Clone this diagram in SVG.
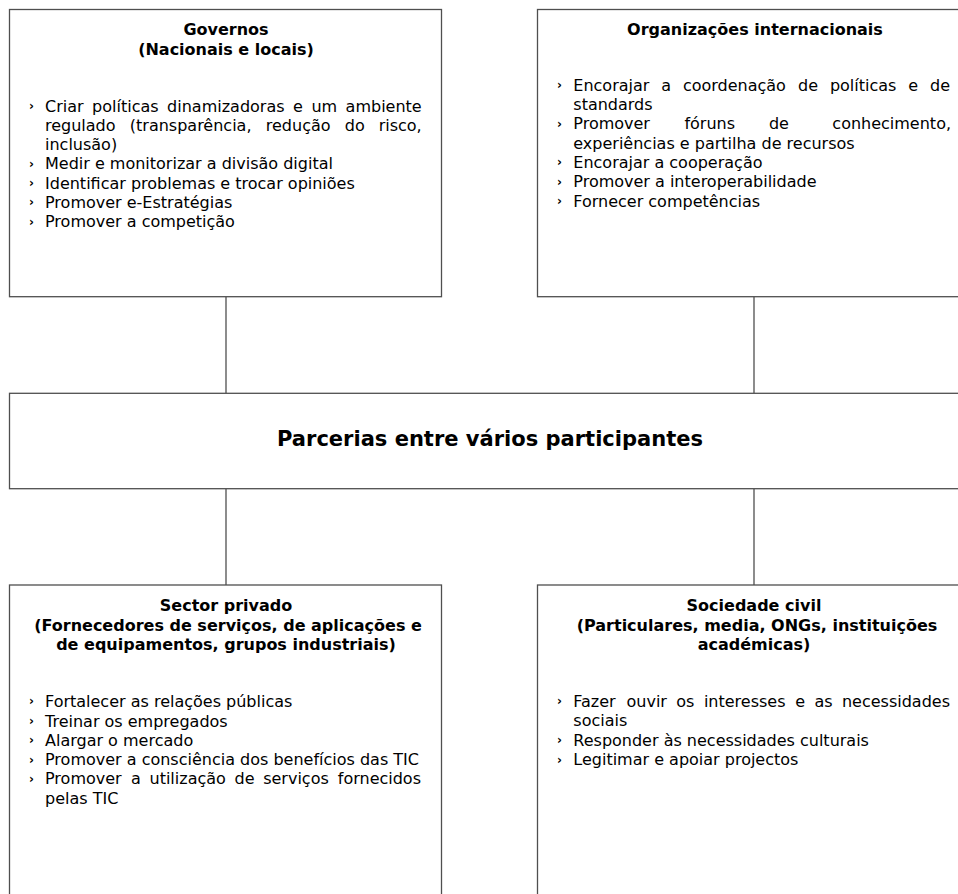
<svg xmlns="http://www.w3.org/2000/svg" width="958" height="894" viewBox="0 0 958 894">
  <style>
    .box { fill: #ffffff; stroke: #4f4f4f; stroke-width: 1.3; }
    .link { stroke: #4f4f4f; stroke-width: 1.3; fill: none; }
    text { font-family: "DejaVu Sans", Verdana, sans-serif; fill: #000000; }
    .title { font-size: 16px; font-weight: bold; text-anchor: middle; }
    .main { font-size: 21px; font-weight: bold; text-anchor: middle; }
    .item { font-size: 16px; }
    .end { text-anchor: end; }
    .bullet { font-size: 12px; font-weight: bold; }
  </style>
  <rect width="958" height="894" fill="#ffffff"/>

  <!-- connectors between the four actor boxes and the central partnership box -->
  <g id="connectors">
    <line class="link" x1="226" y1="296.7" x2="226" y2="393.3"/>
    <line class="link" x1="754" y1="296.7" x2="754" y2="393.3"/>
    <line class="link" x1="226" y1="488.7" x2="226" y2="585"/>
    <line class="link" x1="754" y1="488.7" x2="754" y2="585"/>
  </g>

  <!-- Governos -->
  <g id="governos">
    <rect class="box" x="9.5" y="9.5" width="432" height="287.2"/>
    <text class="title" x="226" y="35">Governos</text>
    <text class="title" x="226" y="55">(Nacionais e locais)</text>
    <text class="bullet" x="29" y="110">›</text>
    <text class="bullet" x="29" y="168">›</text>
    <text class="bullet" x="29" y="187">›</text>
    <text class="bullet" x="29" y="206">›</text>
    <text class="bullet" x="29" y="226">›</text>
    <!-- justified lines: words placed one by one -->
    <text class="item" x="45" y="111.5">Criar</text>
    <text class="item" x="92.1" y="111.5">políticas</text>
    <text class="item" x="167.1" y="111.5">dinamizadoras</text>
    <text class="item" x="293" y="111.5">e</text>
    <text class="item" x="311.4" y="111.5">um</text>
    <text class="item end" x="421.7" y="111.5">ambiente</text>
    <text class="item" x="45" y="130.8">regulado</text>
    <text class="item" x="129.8" y="130.8">(transparência,</text>
    <text class="item" x="265.8" y="130.8">redução</text>
    <text class="item" x="344.8" y="130.8">do</text>
    <text class="item end" x="421.7" y="130.8">risco,</text>
    <text class="item" x="45" y="150.1">inclusão)</text>
    <text class="item" x="45" y="169.4">Medir e monitorizar a divisão digital</text>
    <text class="item" x="45" y="188.7">Identificar problemas e trocar opiniões</text>
    <text class="item" x="45" y="208">Promover e-Estratégias</text>
    <text class="item" x="45" y="227.3">Promover a competição</text>
  </g>

  <!-- Organizações internacionais -->
  <g id="organizacoes">
    <rect class="box" x="537.5" y="9.5" width="432" height="287.2"/>
    <text class="title" x="755" y="35">Organizações internacionais</text>
    <text class="bullet" x="557" y="89.2">›</text>
    <text class="bullet" x="557" y="127.8">›</text>
    <text class="bullet" x="557" y="166.2">›</text>
    <text class="bullet" x="557" y="185.8">›</text>
    <text class="bullet" x="557" y="205.2">›</text>
    <text class="item" x="573.3" y="90.7">Encorajar</text>
    <text class="item" x="661.2" y="90.7">a</text>
    <text class="item" x="682.9" y="90.7">coordenação</text>
    <text class="item" x="798.1" y="90.7">de</text>
    <text class="item" x="829.9" y="90.7">políticas</text>
    <text class="item" x="908.3" y="90.7">e</text>
    <text class="item end" x="950" y="90.7">de</text>
    <text class="item" x="573.3" y="110">standards</text>
    <text class="item" x="573.3" y="129.3">Promover</text>
    <text class="item" x="684.4" y="129.3">fóruns</text>
    <text class="item" x="768.9" y="129.3">de</text>
    <text class="item end" x="951" y="129.3">conhecimento,</text>
    <text class="item" x="573.3" y="148.5">experiências e partilha de recursos</text>
    <text class="item" x="573.3" y="167.7">Encorajar a cooperação</text>
    <text class="item" x="573.3" y="187.3">Promover a interoperabilidade</text>
    <text class="item" x="573.3" y="206.7">Fornecer competências</text>
  </g>

  <!-- Central partnership box -->
  <g id="parcerias">
    <rect class="box" x="9.5" y="393.3" width="960" height="95.4"/>
    <text class="main" x="490" y="445.5" textLength="426" lengthAdjust="spacingAndGlyphs">Parcerias entre vários participantes</text>
  </g>

  <!-- Sector privado -->
  <g id="sector-privado">
    <rect class="box" x="9.5" y="585" width="432" height="330"/>
    <text class="title" x="226" y="610.7">Sector privado</text>
    <text class="title" x="228" y="630.5">(Fornecedores de serviços, de aplicações e</text>
    <text class="title" x="226" y="649.5">de equipamentos, grupos industriais)</text>
    <text class="bullet" x="29" y="705.2">›</text>
    <text class="bullet" x="29" y="725.2">›</text>
    <text class="bullet" x="29" y="744.2">›</text>
    <text class="bullet" x="29" y="763.5">›</text>
    <text class="bullet" x="29" y="782.8">›</text>
    <text class="item" x="45" y="706.7">Fortalecer as relações públicas</text>
    <text class="item" x="45" y="726.7">Treinar os empregados</text>
    <text class="item" x="45" y="745.7">Alargar o mercado</text>
    <text class="item" x="45" y="765">Promover a consciência dos benefícios das TIC</text>
    <text class="item" x="45" y="784.3">Promover</text>
    <text class="item" x="131" y="784.3">a</text>
    <text class="item" x="149.5" y="784.3">utilização</text>
    <text class="item" x="234.5" y="784.3">de</text>
    <text class="item" x="263.2" y="784.3">serviços</text>
    <text class="item end" x="421" y="784.3">fornecidos</text>
    <text class="item" x="45" y="803.5">pelas TIC</text>
  </g>

  <!-- Sociedade civil -->
  <g id="sociedade-civil">
    <rect class="box" x="537.5" y="585" width="432" height="330"/>
    <text class="title" x="754" y="610.7">Sociedade civil</text>
    <text class="title" x="757" y="630.5">(Particulares, media, ONGs, instituições</text>
    <text class="title" x="754" y="649.5">académicas)</text>
    <text class="bullet" x="557" y="705.2">›</text>
    <text class="bullet" x="557" y="744">›</text>
    <text class="bullet" x="557" y="763.5">›</text>
    <text class="item" x="573.3" y="706.7">Fazer</text>
    <text class="item" x="626.5" y="706.7">ouvir</text>
    <text class="item" x="676.3" y="706.7">os</text>
    <text class="item" x="703.9" y="706.7">interesses</text>
    <text class="item" x="795.2" y="706.7">e</text>
    <text class="item" x="814.4" y="706.7">as</text>
    <text class="item end" x="950" y="706.7">necessidades</text>
    <text class="item" x="573.3" y="726">sociais</text>
    <text class="item" x="573.3" y="745.5">Responder às necessidades culturais</text>
    <text class="item" x="573.3" y="765">Legitimar e apoiar projectos</text>
  </g>
</svg>
